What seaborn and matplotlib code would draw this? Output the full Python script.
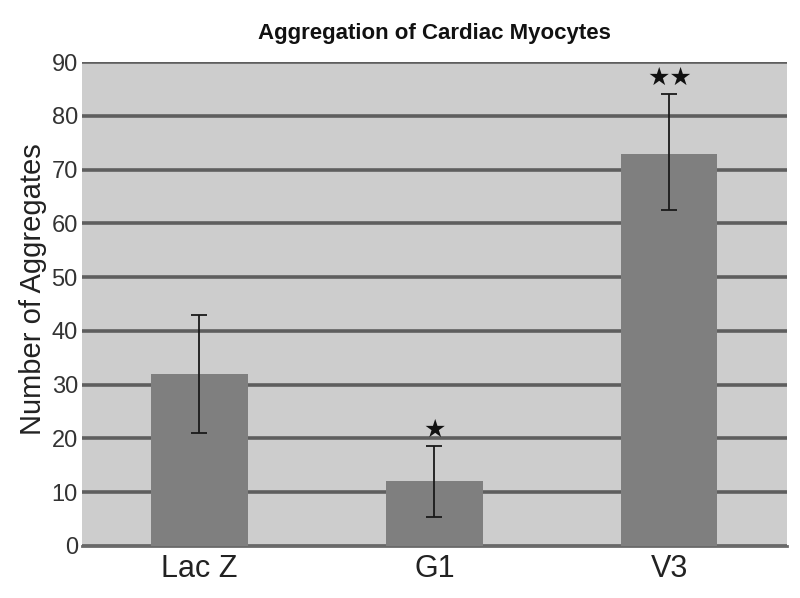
import matplotlib
matplotlib.use("Agg")
import matplotlib.pyplot as plt
import pandas as pd
import seaborn as sns

# data
groups = ["Lac Z", "G1", "V3"]
aggregates = [32, 12, 73]
err_low = [11, 6.6, 10.5]
err_high = [11, 6.6, 11]
stars = ["", "★", "★★"]
y_ticks = [0, 10, 20, 30, 40, 50, 60, 70, 80, 90]

sns.set_theme(style="white")
plt.rcParams["font.family"] = ["Liberation Sans", "DejaVu Sans"]

df = pd.DataFrame({"group": groups, "aggregates": aggregates})

fig = plt.figure(figsize=(8, 5.98), dpi=100)
ax = fig.add_axes([0.1025, 0.087, 0.881, 0.809])
ax.set_facecolor("#cdcdcd")

sns.barplot(data=df, x="group", y="aggregates", order=groups, color="#7f7f7f",
            saturation=1, width=0.41, errorbar=None, ax=ax, zorder=3)
for p in ax.patches:
    p.set_edgecolor("none")

ax.errorbar(range(len(groups)), aggregates, yerr=[err_low, err_high], fmt="none",
            ecolor="#1a1a1a", elinewidth=1.3, capsize=6, capthick=1.3, zorder=4)

# significance stars above the error bars
for i, s in enumerate(stars):
    if s:
        ax.text(i, aggregates[i] + err_high[i] + 3.0, s, ha="center", va="center",
                fontsize=18, color="#111111", family=["DejaVu Sans"], zorder=5)

ax.set_ylim(0, 90)
ax.set_xlim(-0.5, 2.5)
ax.set_yticks(y_ticks)
ax.yaxis.grid(True, color="#5e5e5e", linewidth=2.6, zorder=1)
ax.set_axisbelow(True)
for side in ["top", "right", "left"]:
    ax.spines[side].set_visible(False)
ax.spines["bottom"].set_color("#6a6a6a")
ax.spines["bottom"].set_linewidth(2.0)

ax.tick_params(axis="y", labelsize=17, colors="#333333", length=0, pad=3)
ax.tick_params(axis="x", labelsize=22, colors="#222222", length=0, pad=6)
ax.set_xlabel("")
ax.set_ylabel("Number of Aggregates", fontsize=21, color="#222222")
ax.yaxis.set_label_coords(-0.05, 0.53)
ax.set_title("Aggregation of Cardiac Myocytes", fontsize=16, fontweight="bold",
             color="#111111", pad=17)

fig.savefig("out.png", dpi=100)
